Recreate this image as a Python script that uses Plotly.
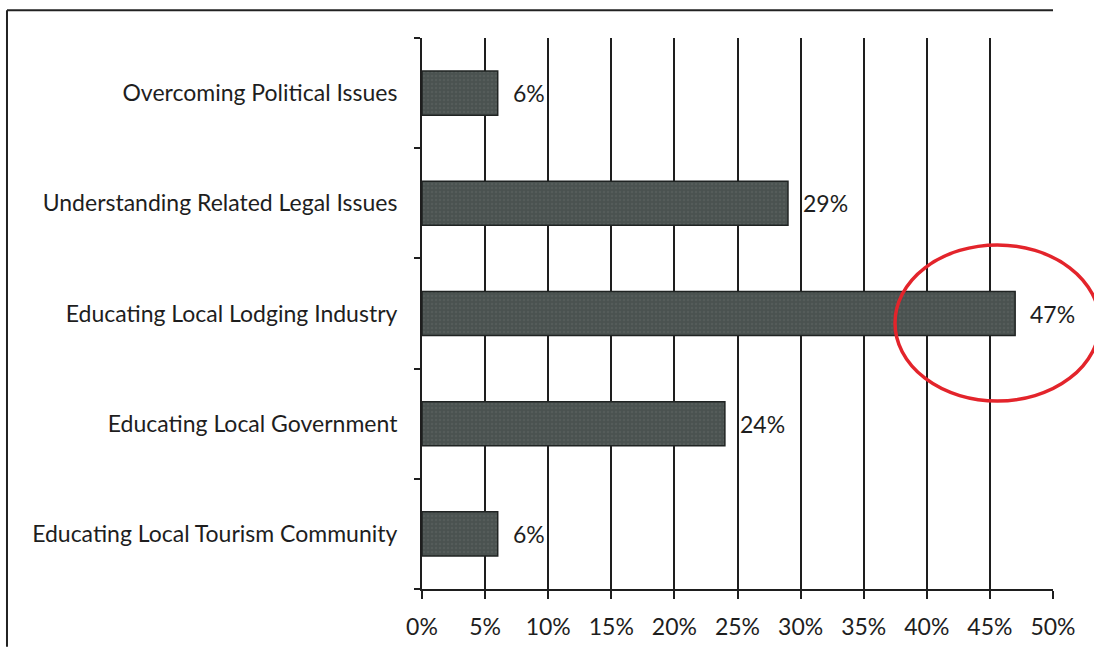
import plotly.graph_objects as go

# Survey results: share of respondents per challenge (percent)
categories = [
    "Overcoming Political Issues",
    "Understanding Related Legal Issues",
    "Educating Local Lodging Industry",
    "Educating Local Government",
    "Educating Local Tourism Community",
]
values = [6, 29, 47, 24, 6]
x_ticks = [0, 5, 10, 15, 20, 25, 30, 35, 40, 45, 50]
x_tick_labels = [f"{t}%" for t in x_ticks]

FONT = "Lato, Open Sans, sans-serif"
INK = "#1e1e1e"
FS = 23

fig = go.Figure()
fig.add_trace(go.Bar(
    x=values,
    y=categories,
    orientation="h",
    width=0.4,
    marker=dict(
        color="#4b5351",
        line=dict(color="#1f2322", width=1.5),
        pattern=dict(shape=".", fgcolor="#5f6664", bgcolor="#4a5250",
                     size=4, solidity=0.3),
    ),
    hoverinfo="skip",
))

# value labels to the right of each bar
for cat, v in zip(categories, values):
    fig.add_annotation(
        x=v, y=cat, xref="x", yref="y",
        text=f"{v}%", showarrow=False,
        xanchor="left", xshift=13,
        font=dict(family=FONT, size=FS, color=INK),
    )

# outer frame: left and top edges
frame = dict(color="#222222", width=2)
fig.add_shape(type="line", xref="paper", yref="paper",
              x0=-0.6577, x1=-0.6577, y0=-0.105, y1=1.0505, line=frame)
fig.add_shape(type="line", xref="paper", yref="paper",
              x0=-0.6577, x1=1.0, y0=1.0505, y1=1.0505, line=frame)

# highlight ring around the largest bar
fig.add_shape(type="circle", xref="paper", yref="paper",
              x0=0.7496, x1=1.0740, y0=0.341, y1=0.6245,
              line=dict(color="#e3242b", width=3.5))

fig.update_xaxes(
    range=[0, 50],
    tickvals=x_ticks,
    ticktext=x_tick_labels,
    ticks="outside", ticklen=8, tickwidth=2, tickcolor=INK,
    showline=True, linecolor=INK, linewidth=2,
    showgrid=True, gridcolor=INK, gridwidth=2,
    zeroline=False,
    ticklabelstandoff=8,
    tickfont=dict(family=FONT, size=FS, color=INK),
    fixedrange=True,
)
fig.update_yaxes(
    categoryorder="array",
    categoryarray=categories[::-1],
    tickson="boundaries",
    ticks="outside", ticklen=6, tickwidth=2, tickcolor=INK,
    showline=True, linecolor=INK, linewidth=2,
    showgrid=False,
    ticklabelstandoff=18,
    tickfont=dict(family=FONT, size=FS, color=INK),
    fixedrange=True,
)

fig.update_layout(
    width=1094, height=652,
    margin=dict(l=422, r=41, t=38, b=60),
    paper_bgcolor="white", plot_bgcolor="white",
    showlegend=False,
    bargap=0.6,
)

fig.write_html("out.html", config={"displayModeBar": False})
